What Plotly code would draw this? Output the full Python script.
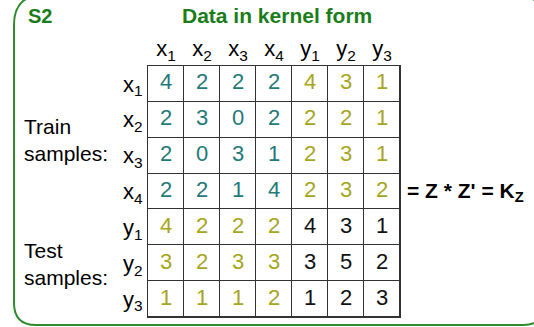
import plotly.graph_objects as pgo

# data
col_labels = ['x<sub>1</sub>', 'x<sub>2</sub>', 'x<sub>3</sub>', 'x<sub>4</sub>',
              'y<sub>1</sub>', 'y<sub>2</sub>', 'y<sub>3</sub>']
row_labels = col_labels
kernel = [[4, 2, 2, 2, 4, 3, 1],
          [2, 3, 0, 2, 2, 2, 1],
          [2, 0, 3, 1, 2, 3, 1],
          [2, 2, 1, 4, 2, 3, 2],
          [4, 2, 2, 2, 4, 3, 1],
          [3, 2, 3, 3, 3, 5, 2],
          [1, 1, 1, 2, 1, 2, 3]]
n_train = 4

TEAL = '#1f7a78'
OLIVE = '#a6a61c'
GREEN = '#1a7d1a'
FONT = 'Liberation Sans, Arial, sans-serif'
W, H = 534, 327


def cell_color(i, j):
    if i < n_train and j < n_train:
        return TEAL
    if i >= n_train and j >= n_train:
        return '#111111'
    return OLIVE


xs, ys, txt, cols = [], [], [], []
for i, row in enumerate(kernel):
    for j, v in enumerate(row):
        xs.append(j)
        ys.append(i)
        txt.append(str(v))
        cols.append(cell_color(i, j))

n = len(col_labels)
fig = pgo.Figure()

# white cells, the gaps show the dark grid
fig.add_trace(pgo.Heatmap(z=[[0] * n for _ in range(n)],
                          x=list(range(n)), y=list(range(n)),
                          colorscale=[[0, 'white'], [1, 'white']],
                          showscale=False, xgap=1, ygap=1,
                          hoverinfo='skip'))
fig.add_trace(pgo.Scatter(x=xs, y=ys, text=txt, mode='text',
                          textfont=dict(size=22, color=cols, family=FONT),
                          hoverinfo='skip'))


def px(x, y):
    return f'{x / W:.5f},{1 - y / H:.5f}'


# rounded green frame
l, r, t, b = 14, 545, -5, 325
rt, rb = 30, 22
frame = (f'M {px(l, t + rt)} Q {px(l, t)} {px(l + rt, t)} '
         f'L {px(r - rt, t)} Q {px(r, t)} {px(r, t + rt)} '
         f'L {px(r, b - rb)} Q {px(r, b)} {px(r - rb, b)} '
         f'L {px(l + rb, b)} Q {px(l, b)} {px(l, b - rb)} Z')
fig.add_shape(type='path', path=frame, xref='paper', yref='paper',
              line=dict(color='#2e8b2e', width=2), layer='below')

ann = dict(xref='paper', yref='paper', showarrow=False)
fig.add_annotation(text='<b>S2</b>', x=26 / W, y=1 - 16 / H, xanchor='left',
                   yanchor='middle', font=dict(size=20, color=GREEN, family=FONT), **ann)
fig.add_annotation(text='<b>Data in kernel form</b>', x=277 / W, y=1 - 16 / H,
                   xanchor='center', yanchor='middle',
                   font=dict(size=21, color=GREEN, family=FONT), **ann)
fig.add_annotation(text='Train<br>samples:', x=22 / W, y=1 - 140 / H, xanchor='left',
                   yanchor='middle', align='left',
                   font=dict(size=21, color='black', family=FONT), **ann)
fig.add_annotation(text='Test<br>samples:', x=22 / W, y=1 - 264 / H, xanchor='left',
                   yanchor='middle', align='left',
                   font=dict(size=21, color='black', family=FONT), **ann)
fig.add_annotation(text="<b>= Z * Z' = K<sub>Z</sub></b>", x=405 / W, y=1 - 192 / H,
                   xanchor='left', yanchor='middle',
                   font=dict(size=21, color='black', family=FONT), **ann)

fig.update_xaxes(domain=[148 / W, 400 / W], range=[-0.5, n - 0.5], side='top',
                 tickmode='array', tickvals=list(range(n)), ticktext=col_labels,
                 showgrid=False, zeroline=False, showline=True, mirror=True,
                 linecolor='#333', linewidth=1, ticks='', automargin=False,
                 tickfont=dict(size=22, color='black', family=FONT))
fig.update_yaxes(domain=[1 - 317 / H, 1 - 66 / H], range=[n - 0.5, -0.5],
                 tickmode='array', tickvals=list(range(n)), ticktext=row_labels,
                 showgrid=False, zeroline=False, showline=True, mirror=True,
                 linecolor='#333', linewidth=1, ticks='', automargin=False,
                 tickfont=dict(size=22, color='black', family=FONT))
fig.update_layout(width=W, height=H, margin=dict(l=0, r=0, t=0, b=0),
                  plot_bgcolor='#333', paper_bgcolor='white', showlegend=False)

fig.write_html('out.html', config={'displayModeBar': False},
               post_script="document.body.style.margin='0';"
                           "document.body.style.overflow='hidden';")
